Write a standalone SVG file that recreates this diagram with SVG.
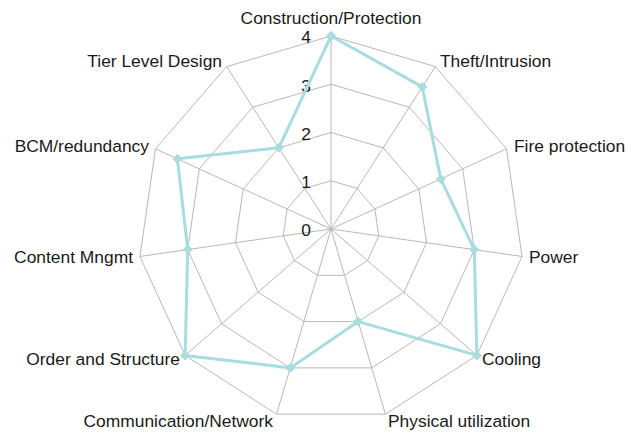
<svg xmlns="http://www.w3.org/2000/svg" width="640" height="432" viewBox="0 0 640 432">
<style>
.grid{fill:none;stroke:#b8b8b8;stroke-width:1}
.lbl{font-family:"Liberation Sans",Arial,sans-serif;font-size:17.4px;fill:#1a1a1a}
.num{font-family:"Liberation Sans",Arial,sans-serif;font-size:17.4px;fill:#1a1a1a;text-anchor:end}
.data{fill:none;stroke:#a8dcdf;stroke-width:3;stroke-linejoin:round;marker-start:url(#dm);marker-mid:url(#dm);marker-end:url(#dm)}
</style>
<defs>
<marker id="dm" markerUnits="userSpaceOnUse" markerWidth="12" markerHeight="12" refX="6" refY="6" orient="0">
<polygon points="6,1 11,6 6,11 1,6" fill="#a8dcdf"/>
</marker>
</defs>
<rect width="640" height="432" fill="#ffffff"/>
<g id="grid">
<polygon class="grid" points="331,180.75 357.09,188.41 374.89,208.96 378.76,235.87 367.46,260.6 344.59,275.3 317.41,275.3 294.54,260.6 283.24,235.87 287.11,208.96 304.91,188.41"/>
<polygon class="grid" points="331,132.5 383.17,147.82 418.78,188.91 426.52,242.73 403.93,292.19 358.19,321.59 303.81,321.59 258.07,292.19 235.48,242.73 243.22,188.91 278.83,147.82"/>
<polygon class="grid" points="331,84.25 409.26,107.23 462.67,168.87 474.28,249.6 440.4,323.79 371.78,367.89 290.22,367.89 221.6,323.79 187.72,249.6 199.33,168.87 252.74,107.23"/>
<polygon class="grid" points="331,36 435.34,66.64 506.56,148.82 522.04,256.47 476.86,355.39 385.37,414.18 276.63,414.18 185.14,355.39 139.96,256.47 155.44,148.82 226.66,66.64"/>
</g>
<g id="connectors">
<path class="grid" d="M331,229L331,36M331,229L435.34,66.64M331,229L506.56,148.82M331,229L522.04,256.47M331,229L476.86,355.39M331,229L385.37,414.18M331,229L276.63,414.18M331,229L185.14,355.39M331,229L139.96,256.47M331,229L155.44,148.82M331,229L226.66,66.64"/>
</g>
<g id="scale">
<text class="num" x="311" y="43">4</text>
<text class="num" x="311" y="91.5">3</text>
<text class="num" x="311" y="139.8">2</text>
<text class="num" x="311" y="188">1</text>
<text class="num" x="311" y="236">0</text>
</g>
<g id="series">
<polygon class="data" points="331,36 422.3,86.93 440.72,178.89 474.28,249.6 476.86,355.39 358.19,321.59 290.22,367.89 185.14,355.39 187.72,249.6 177.39,158.85 278.83,147.82"/>
</g>
<g id="n-construction"><text class="lbl" x="331" y="24" text-anchor="middle">Construction/Protection</text></g>
<g id="n-theft"><text class="lbl" x="440" y="67">Theft/Intrusion</text></g>
<g id="n-fire"><text class="lbl" x="514" y="152">Fire protection</text></g>
<g id="n-power"><text class="lbl" x="529" y="263">Power</text></g>
<g id="n-cooling"><text class="lbl" x="482" y="365">Cooling</text></g>
<g id="n-physical"><text class="lbl" x="388" y="427">Physical utilization</text></g>
<g id="n-communication"><text class="lbl" x="273" y="427" text-anchor="end">Communication/Network</text></g>
<g id="n-order"><text class="lbl" x="180" y="365" text-anchor="end">Order and Structure</text></g>
<g id="n-content"><text class="lbl" x="133" y="263" text-anchor="end">Content Mngmt</text></g>
<g id="n-bcm"><text class="lbl" x="149" y="152" text-anchor="end">BCM/redundancy</text></g>
<g id="n-tier"><text class="lbl" x="222" y="67" text-anchor="end">Tier Level Design</text></g>
</svg>
